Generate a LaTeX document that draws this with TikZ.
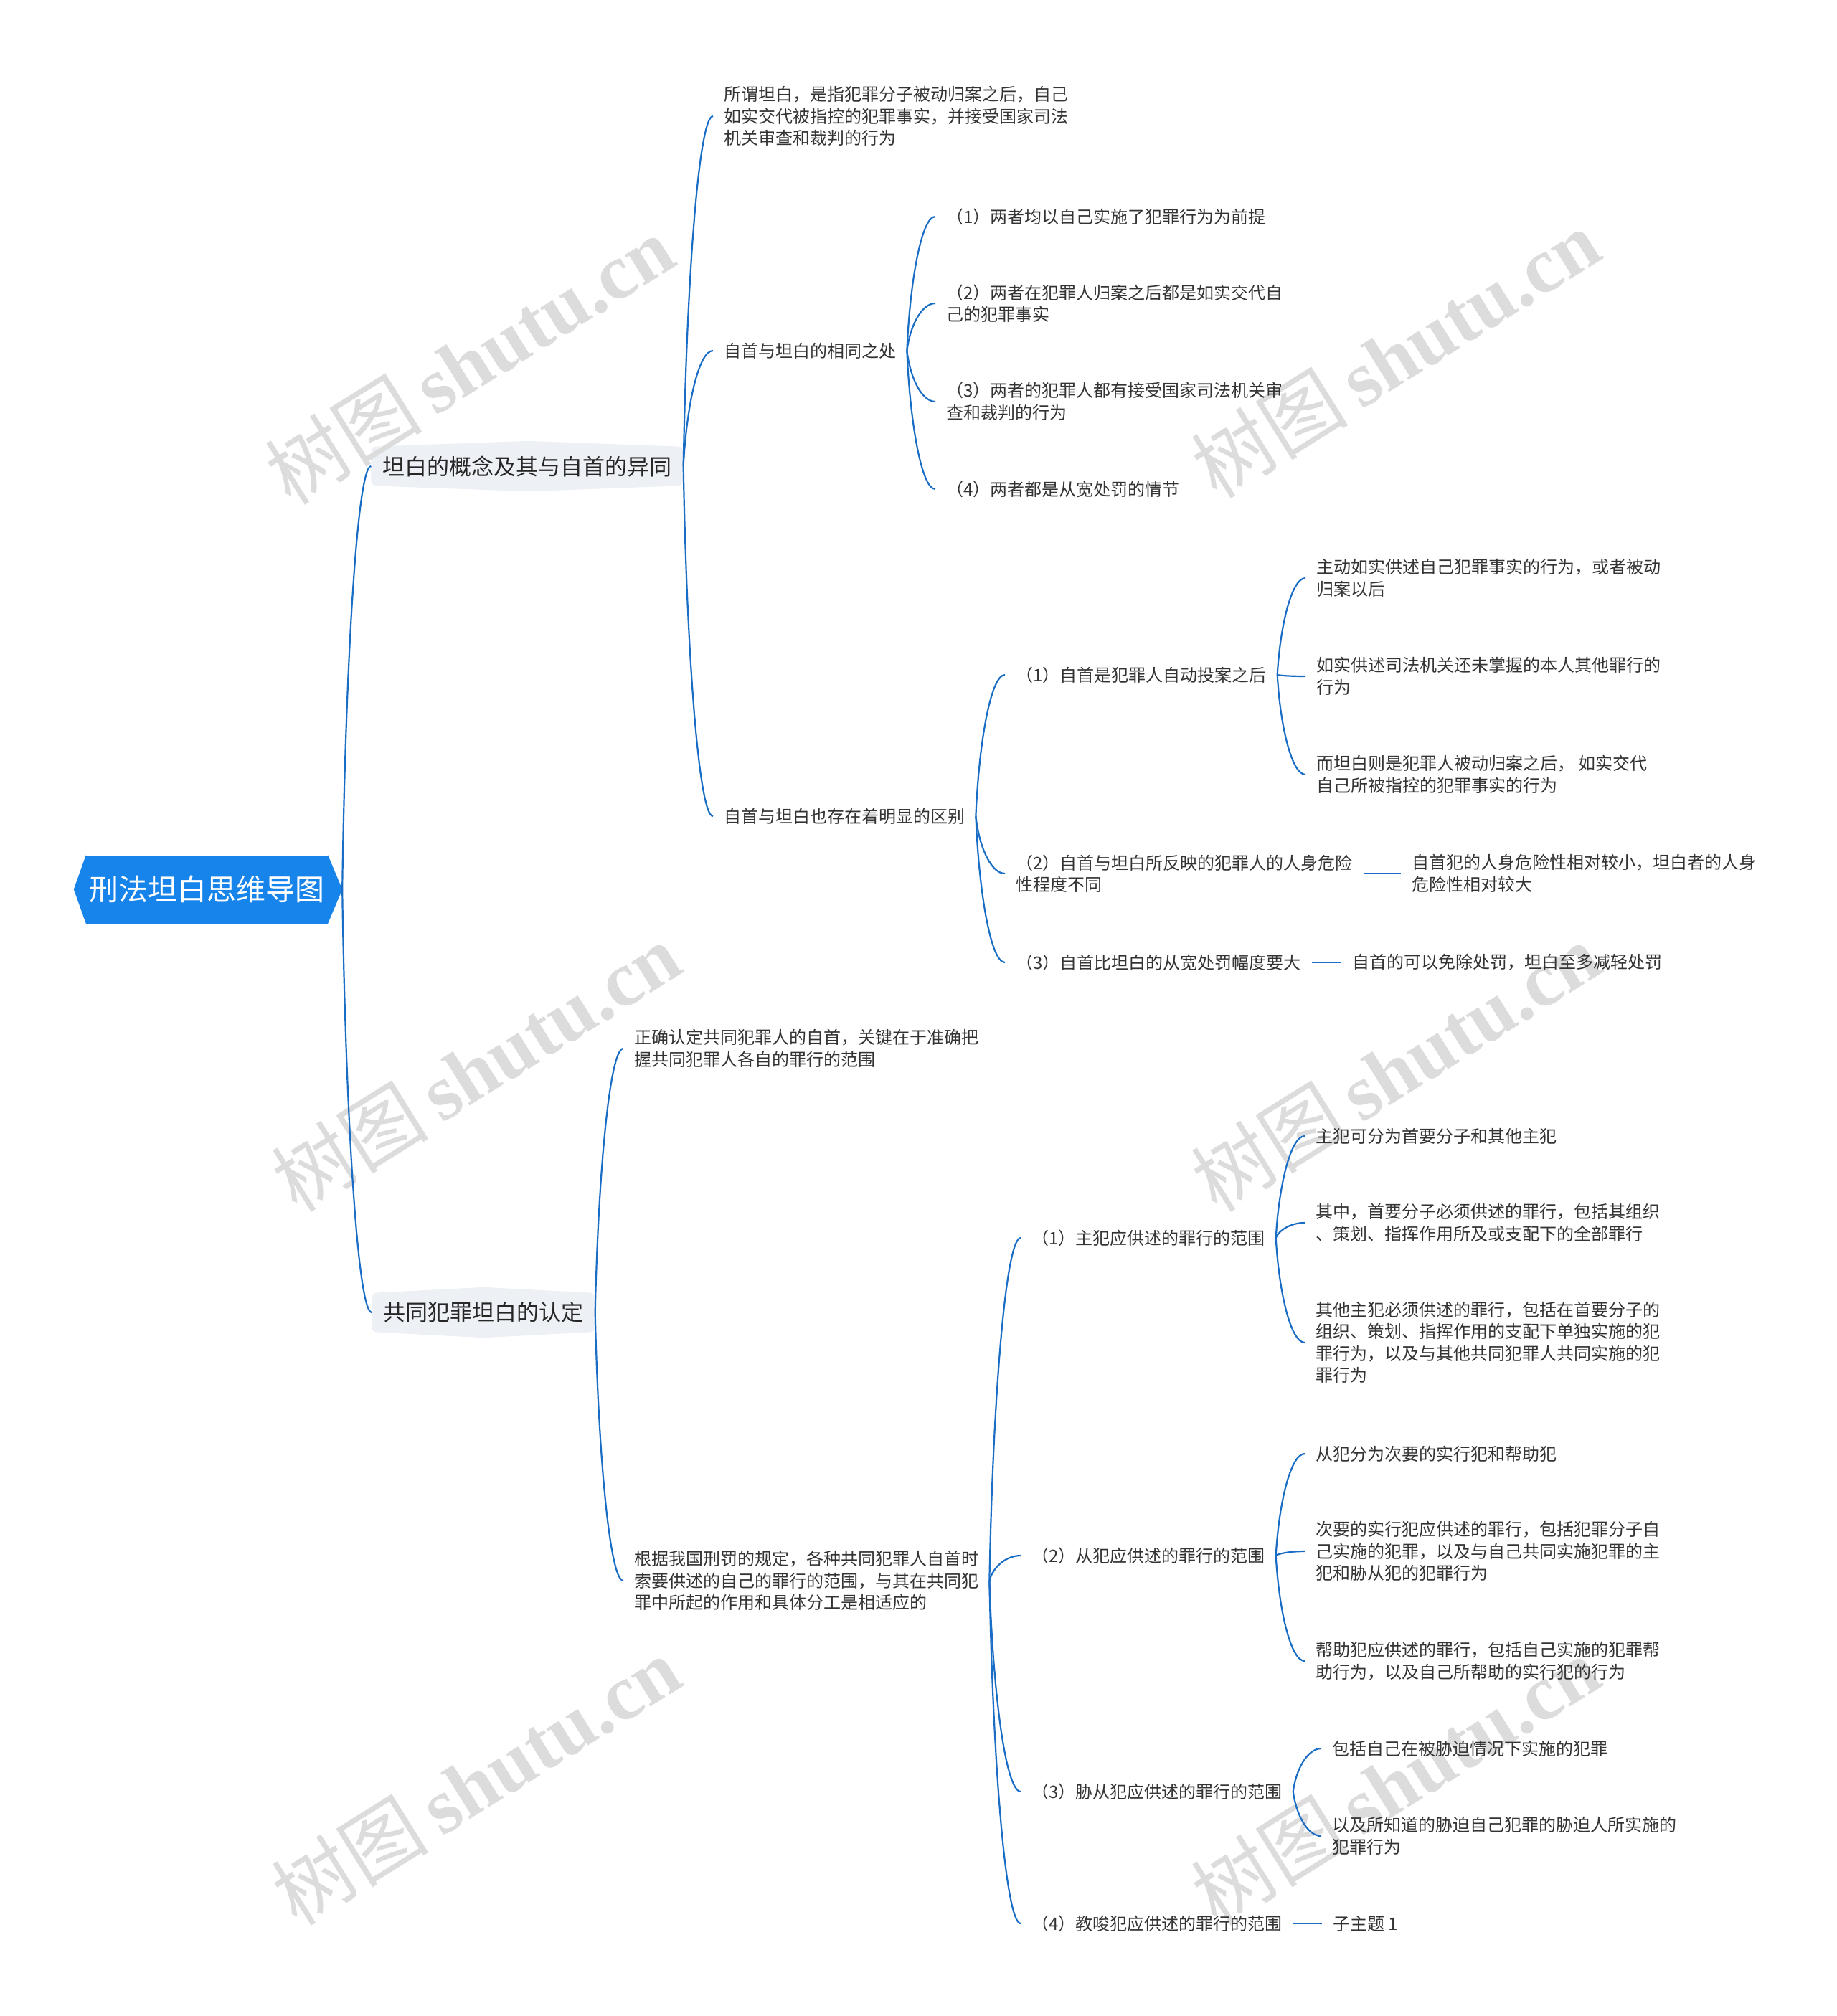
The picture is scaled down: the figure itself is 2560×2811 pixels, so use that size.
\documentclass[tikz,border=0pt]{standalone}
\usepackage{fontspec}
\setmainfont{Noto Sans CJK SC}
\newfontfamily\wmlatin{Liberation Serif}
\usetikzlibrary{calc,backgrounds}
\definecolor{linkblue}{HTML}{1A6DC4}
\definecolor{rootblue}{HTML}{1684EA}
\definecolor{lonefill}{HTML}{EDF0F4}
\definecolor{txtgray}{HTML}{333333}
\definecolor{wmgray}{HTML}{DCDCDC}
\begin{document}
\begin{tikzpicture}[x=1pt,y=-1pt,
 txt/.style={anchor=west, inner xsep=15pt, inner ysep=3pt, align=left, text=txtgray, font=\fontsize{24}{30.5}\selectfont},
 lone/.style={inner xsep=16pt, inner ysep=0pt, minimum height=54pt, text=black!85, font=\fontsize{31}{36}\selectfont},
 rootnode/.style={fill=rootblue, text=white, minimum width=337pt, minimum height=95pt, inner sep=0pt, font=\fontsize{41}{48}\selectfont},
 conn/.style={draw=linkblue, line width=2.2pt},
 curve/.style={to path={let \p1=(\tikztostart), \p2=(\tikztotarget) in .. controls ({\x1+0.1*(\x2-\x1)},{0.5*(\y1+\y2)}) and ({\x1+0.5*(\x2-\x1)},\y2) .. (\tikztotarget)}},
 wm/.style={text=wmgray, rotate=32, font=\fontsize{110}{120}\selectfont, inner sep=0pt}
]
\useasboundingbox (0,0) rectangle (2560,2811);

% watermarks
\node[wm] (wm1) at (654,502) {树图\,{\wmlatin\bfseries shutu.cn}};
\node[wm] (wm2) at (1945,493) {树图\,{\wmlatin\bfseries shutu.cn}};
\node[wm] (wm3) at (663,1488) {树图\,{\wmlatin\bfseries shutu.cn}};
\node[wm] (wm4) at (1945,1488) {树图\,{\wmlatin\bfseries shutu.cn}};
\node[wm] (wm5) at (663,2483) {树图\,{\wmlatin\bfseries shutu.cn}};
\node[wm] (wm6) at (1945,2483) {树图\,{\wmlatin\bfseries shutu.cn}};

% root
\node[rootnode] (root) at (288.5,1240) {刑法坦白思维导图};
\fill[rootblue] (root.north west) -- ([xshift=-17pt]root.west) -- (root.south west) -- cycle;
\fill[rootblue] (root.north east) -- ([xshift=20pt]root.east) -- (root.south east) -- cycle;
\coordinate (rootR) at ([xshift=20pt]root.east);

% level 1
\node[lone] (La) at (735,650) {坦白的概念及其与自首的异同};
\node[lone] (Lb) at (674,1830) {共同犯罪坦白的认定};
\begin{scope}[on background layer]
\fill[lonefill, rounded corners=7pt] (La.north west) -- ($(La.north)+(0,-8)$) -- (La.north east) -- (La.south east) -- ($(La.south)+(0,8)$) -- (La.south west) -- cycle;
\fill[lonefill, rounded corners=7pt] (Lb.north west) -- ($(Lb.north)+(0,-8)$) -- (Lb.north east) -- (Lb.south east) -- ($(Lb.south)+(0,8)$) -- (Lb.south west) -- cycle;
\end{scope}

% branch a
\node[txt] (A1) at (994,162) {所谓坦白，是指犯罪分子被动归案之后，自己\\如实交代被指控的犯罪事实，并接受国家司法\\机关审查和裁判的行为};
\node[txt] (A2) at (994,489) {自首与坦白的相同之处};
\node[txt] (A3) at (994,1138) {自首与坦白也存在着明显的区别};

\node[txt] (B1) at (1304,302) {（1）两者均以自己实施了犯罪行为为前提};
\node[txt] (B2) at (1304,423) {（2）两者在犯罪人归案之后都是如实交代自\\己的犯罪事实};
\node[txt] (B3) at (1304,560) {（3）两者的犯罪人都有接受国家司法机关审\\查和裁判的行为};
\node[txt] (B4) at (1304,682) {（4）两者都是从宽处罚的情节};

\node[txt] (C1) at (1401,941) {（1）自首是犯罪人自动投案之后};
\node[txt] (C2) at (1401,1218) {（2）自首与坦白所反映的犯罪人的人身危险\\性程度不同};
\node[txt] (C3) at (1401,1342) {（3）自首比坦白的从宽处罚幅度要大};

\node[txt] (D2) at (1953,1218) {自首犯的人身危险性相对较小，坦白者的人身\\危险性相对较大};
\node[txt] (D3) at (1870,1342) {自首的可以免除处罚，坦白至多减轻处罚};

\node[txt] (E1) at (1820,806) {主动如实供述自己犯罪事实的行为，或者被动\\归案以后};
\node[txt] (E2) at (1820,943) {如实供述司法机关还未掌握的本人其他罪行的\\行为};
\node[txt] (E3) at (1820,1080) {而坦白则是犯罪人被动归案之后， 如实交代\\自己所被指控的犯罪事实的行为};

% branch b
\node[txt] (F1) at (869,1462) {正确认定共同犯罪人的自首，关键在于准确把\\握共同犯罪人各自的罪行的范围};
\node[txt] (F2) at (869,2204) {根据我国刑罚的规定，各种共同犯罪人自首时\\索要供述的自己的罪行的范围，与其在共同犯\\罪中所起的作用和具体分工是相适应的};

\node[txt] (G1) at (1423,1726) {（1）主犯应供述的罪行的范围};
\node[txt] (G2) at (1423,2169) {（2）从犯应供述的罪行的范围};
\node[txt] (G3) at (1423,2498) {（3）胁从犯应供述的罪行的范围};
\node[txt] (G4) at (1423,2682) {（4）教唆犯应供述的罪行的范围};

\node[txt] (H1) at (1819,1584) {主犯可分为首要分子和其他主犯};
\node[txt] (H2) at (1819,1705) {其中，首要分子必须供述的罪行，包括其组织\\、策划、指挥作用所及或支配下的全部罪行};
\node[txt] (H3) at (1819,1872) {其他主犯必须供述的罪行，包括在首要分子的\\组织、策划、指挥作用的支配下单独实施的犯\\罪行为，以及与其他共同犯罪人共同实施的犯\\罪行为};

\node[txt] (I1) at (1819,2027) {从犯分为次要的实行犯和帮助犯};
\node[txt] (I2) at (1819,2163) {次要的实行犯应供述的罪行，包括犯罪分子自\\己实施的犯罪，以及与自己共同实施犯罪的主\\犯和胁从犯的犯罪行为};
\node[txt] (I3) at (1819,2316) {帮助犯应供述的罪行，包括自己实施的犯罪帮\\助行为，以及自己所帮助的实行犯的行为};

\node[txt] (J1) at (1842,2438) {包括自己在被胁迫情况下实施的犯罪};
\node[txt] (J2) at (1842,2560) {以及所知道的胁迫自己犯罪的胁迫人所实施的\\犯罪行为};

\node[txt] (K1) at (1843,2682) {子主题 1};

% connectors
\draw[conn] (rootR) to[curve] (La.west);
\draw[conn] (rootR) to[curve] (Lb.west);

\foreach \c in {A1,A2,A3} \draw[conn] (La.east) to[curve] (\c.west);
\foreach \c in {B1,B2,B3,B4} \draw[conn] (A2.east) to[curve] (\c.west);
\foreach \c in {C1,C2,C3} \draw[conn] (A3.east) to[curve] (\c.west);
\foreach \c in {E1,E2,E3} \draw[conn] (C1.east) to[curve] (\c.west);
\draw[conn] (C2.east) -- (D2.west);
\draw[conn] (C3.east) -- (D3.west);

\foreach \c in {F1,F2} \draw[conn] (Lb.east) to[curve] (\c.west);
\foreach \c in {G1,G2,G3,G4} \draw[conn] (F2.east) to[curve] (\c.west);
\foreach \c in {H1,H2,H3} \draw[conn] (G1.east) to[curve] (\c.west);
\foreach \c in {I1,I2,I3} \draw[conn] (G2.east) to[curve] (\c.west);
\foreach \c in {J1,J2} \draw[conn] (G3.east) to[curve] (\c.west);
\draw[conn] (G4.east) -- (K1.west);
\end{tikzpicture}
\end{document}
